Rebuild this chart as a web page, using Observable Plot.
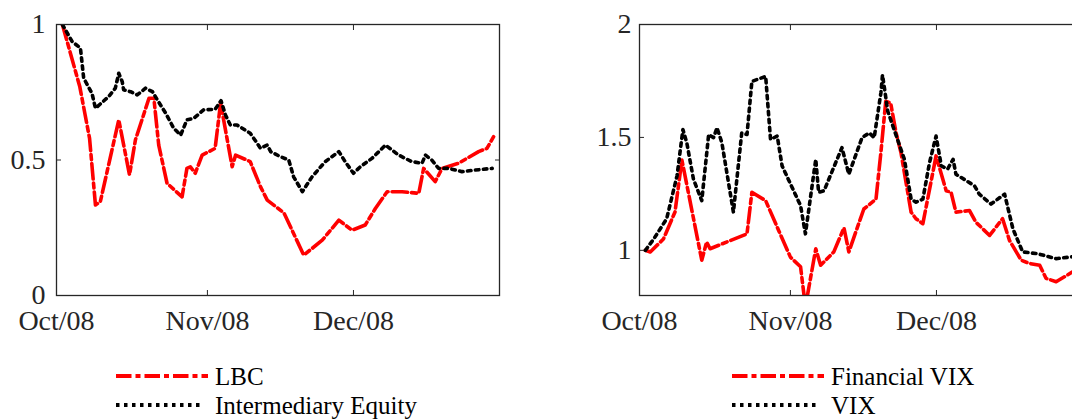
<!DOCTYPE html>
<html><head><meta charset="utf-8">
<script src="https://cdn.jsdelivr.net/npm/d3@7"></script>
<script src="https://cdn.jsdelivr.net/npm/@observablehq/plot@0.6"></script>
<style>
html,body{margin:0;padding:0;background:#fff;}
#wrap{position:relative;width:1072px;height:419px;overflow:hidden;background:#fff;}
#wrap > .panel{position:absolute;top:0;}
#legend{position:absolute;left:0;top:0;}
</style></head><body><div id="wrap"></div>
<script>
// ---------- data (dates as "YYYY-MM-DD HH", UTC) ----------
const xTickDates = ["2008-10-01 00", "2008-11-01 00", "2008-12-01 00"];
const xTickLabels = ["Oct/08", "Nov/08", "Dec/08"];
const xDomainDates = ["2008-10-01 00", "2008-12-31 00"];

const leftYTicks = [0, 0.5, 1];
const leftYTickLabels = ["0", "0.5", "1"];
const rightYTicks = [1, 1.5, 2];
const rightYTickLabels = ["1", "1.5", "2"];

const lbcDates = ["2008-10-02 05","2008-10-05 19","2008-10-07 19","2008-10-09 00","2008-10-10 00","2008-10-13 19","2008-10-16 00","2008-10-17 05","2008-10-20 00","2008-10-21 00","2008-10-22 00","2008-10-23 17","2008-10-26 19","2008-10-27 19","2008-10-28 12","2008-10-29 12","2008-10-30 22","2008-11-02 14","2008-11-03 17","2008-11-06 02","2008-11-06 19","2008-11-09 19","2008-11-11 22","2008-11-13 07","2008-11-16 17","2008-11-20 19","2008-11-24 14","2008-11-28 00","2008-11-30 17","2008-12-03 10","2008-12-05 12","2008-12-07 22","2008-12-11 00","2008-12-14 10","2008-12-15 10","2008-12-17 19","2008-12-19 05","2008-12-22 14","2008-12-26 17","2008-12-28 10","2008-12-29 19"];
const lbcValues = [1.0,0.77,0.58,0.334,0.346,0.648,0.445,0.574,0.728,0.728,0.555,0.414,0.364,0.469,0.475,0.451,0.518,0.543,0.71,0.475,0.518,0.494,0.401,0.352,0.305,0.149,0.204,0.278,0.241,0.26,0.321,0.383,0.383,0.377,0.469,0.42,0.469,0.488,0.531,0.543,0.586];

const equityDates = ["2008-10-02 05","2008-10-04 05","2008-10-05 22","2008-10-06 14","2008-10-08 07","2008-10-09 00","2008-10-11 17","2008-10-13 02","2008-10-13 19","2008-10-14 12","2008-10-14 19","2008-10-16 05","2008-10-17 14","2008-10-19 07","2008-10-20 17","2008-10-21 17","2008-10-23 10","2008-10-25 02","2008-10-26 12","2008-10-27 19","2008-10-29 05","2008-10-31 05","2008-11-02 14","2008-11-03 19","2008-11-04 17","2008-11-05 17","2008-11-07 02","2008-11-09 19","2008-11-11 22","2008-11-13 07","2008-11-14 00","2008-11-16 00","2008-11-17 17","2008-11-18 17","2008-11-20 12","2008-11-22 12","2008-11-25 05","2008-11-28 00","2008-11-29 07","2008-12-01 00","2008-12-02 10","2008-12-04 19","2008-12-07 14","2008-12-10 07","2008-12-13 00","2008-12-15 02","2008-12-15 19","2008-12-17 02","2008-12-18 12","2008-12-20 14","2008-12-23 07","2008-12-26 00","2008-12-29 12"];
const equityValues = [1.0,0.937,0.913,0.802,0.746,0.691,0.734,0.765,0.82,0.789,0.759,0.752,0.74,0.765,0.752,0.722,0.673,0.617,0.592,0.648,0.654,0.685,0.687,0.719,0.666,0.629,0.629,0.599,0.543,0.555,0.531,0.512,0.5,0.438,0.383,0.438,0.494,0.531,0.494,0.451,0.475,0.506,0.555,0.518,0.494,0.488,0.518,0.5,0.469,0.469,0.457,0.463,0.469];

const finVixDates = ["2008-10-02 05","2008-10-03 05","2008-10-05 22","2008-10-08 07","2008-10-09 17","2008-10-13 19","2008-10-14 19","2008-10-15 12","2008-10-23 02","2008-10-24 02","2008-10-26 22","2008-10-29 14","2008-11-01 00","2008-11-03 02","2008-11-04 02","2008-11-06 05","2008-11-07 05","2008-11-09 22","2008-11-12 00","2008-11-13 00","2008-11-16 02","2008-11-18 14","2008-11-19 14","2008-11-20 14","2008-11-21 14","2008-11-22 17","2008-11-23 17","2008-11-25 19","2008-11-26 19","2008-11-28 05","2008-11-30 22","2008-12-03 00","2008-12-04 00","2008-12-05 00","2008-12-07 19","2008-12-09 02","2008-12-11 22","2008-12-14 14","2008-12-16 00","2008-12-18 10","2008-12-20 02","2008-12-22 05","2008-12-23 12","2008-12-25 14","2008-12-29 00","2008-12-30 00"];
const finVixValues = [1.0,0.993,1.05,1.17,1.40,0.956,1.037,1.007,1.073,1.257,1.22,1.088,0.97,0.927,0.75,1.007,0.934,0.993,1.10,0.993,1.183,1.227,1.433,1.66,1.653,1.52,1.433,1.169,1.14,1.118,1.418,1.264,1.257,1.169,1.176,1.125,1.066,1.14,1.044,0.956,0.942,0.934,0.876,0.861,0.905,0.93];

const vixDates = ["2008-10-02 05","2008-10-03 22","2008-10-06 14","2008-10-08 17","2008-10-09 22","2008-10-10 17","2008-10-12 02","2008-10-13 19","2008-10-15 05","2008-10-16 05","2008-10-16 22","2008-10-17 22","2008-10-20 07","2008-10-22 00","2008-10-23 02","2008-10-24 02","2008-10-26 22","2008-10-27 22","2008-10-29 07","2008-10-30 07","2008-11-03 02","2008-11-04 02","2008-11-06 05","2008-11-06 19","2008-11-07 22","2008-11-11 14","2008-11-13 00","2008-11-15 17","2008-11-17 05","2008-11-18 05","2008-11-19 14","2008-11-19 22","2008-11-21 00","2008-11-23 00","2008-11-24 10","2008-11-25 19","2008-11-26 19","2008-11-28 05","2008-11-29 14","2008-11-30 22","2008-12-02 00","2008-12-03 07","2008-12-04 10","2008-12-05 00","2008-12-08 19","2008-12-09 19","2008-12-12 05","2008-12-15 00","2008-12-16 17","2008-12-18 17","2008-12-21 19","2008-12-25 14","2008-12-28 17","2008-12-30 00"];
const vixValues = [1.0,1.05,1.14,1.33,1.535,1.477,1.315,1.22,1.513,1.499,1.543,1.477,1.169,1.52,1.513,1.748,1.77,1.491,1.506,1.374,1.198,1.073,1.403,1.257,1.264,1.455,1.337,1.499,1.52,1.499,1.697,1.777,1.616,1.491,1.403,1.227,1.213,1.227,1.389,1.506,1.374,1.36,1.403,1.337,1.286,1.249,1.205,1.249,1.095,0.993,0.985,0.963,0.971,0.975];

const leftLabels = ["LBC", "Intermediary Equity"];
const rightLabels = ["Financial VIX", "VIX"];

// ---------- build ----------
const parse = d3.utcParse("%Y-%m-%d %H");
const rows = (dates, values) => dates.map((d, i) => ({date: parse(d), value: values[i]}));

const RED_DASH = "15.5,4,5,4";
const DOT_DASH = "3.5,4.5";
const INK = "#262626";

function panel({redRows, blackRows, yDomain, yTicks, yTickLabels, yPad}) {
  const xTicks = xTickDates.map(parse);
  const xFmt = d => xTickLabels[xTicks.findIndex(t => +t === +d)];
  const yFmt = d => yTickLabels[yTicks.indexOf(d)];
  return Plot.plot({
    width: 520, height: 340,
    marginLeft: 56, marginRight: 21, marginTop: 24, marginBottom: 45,
    style: {fontFamily: "'Liberation Serif', serif", fontSize: "28px", color: INK, background: "transparent", overflow: "visible"},
    x: {type: "utc", domain: xDomainDates.map(parse), label: null},
    y: {domain: yDomain, label: null},
    marks: [
      Plot.lineY(redRows, {x: "date", y: "value", stroke: "#ff0000", strokeWidth: 3.6, strokeDasharray: RED_DASH, clip: true}),
      Plot.lineY(blackRows, {x: "date", y: "value", stroke: "#000", strokeWidth: 3.6, strokeDasharray: DOT_DASH, clip: true}),
      Plot.axisX(xTicks, {anchor: "bottom", label: null, tickSize: -5, tickPadding: 20, tickFormat: xFmt, stroke: INK, fill: INK}),
      Plot.axisX(xTicks, {anchor: "top", label: null, tickSize: -5, tickFormat: () => "", stroke: INK}),
      Plot.axisY(yTicks, {anchor: "left", label: null, tickSize: -5, tickPadding: yPad, tickFormat: yFmt, stroke: INK, fill: INK}),
      Plot.axisY(yTicks, {anchor: "right", label: null, tickSize: -5, tickFormat: () => "", stroke: INK}),
      Plot.frame({stroke: INK, strokeWidth: 1.3})
    ]
  });
}

const wrap = document.getElementById("wrap");

const left = panel({
  redRows: rows(lbcDates, lbcValues),
  blackRows: rows(equityDates, equityValues),
  yDomain: [0, 1], yTicks: leftYTicks, yTickLabels: leftYTickLabels, yPad: 16
});
left.classList.add("panel");
left.style.left = "0px";
wrap.appendChild(left);

const right = panel({
  redRows: rows(finVixDates, finVixValues),
  blackRows: rows(vixDates, vixValues),
  yDomain: [0.8, 2], yTicks: rightYTicks, yTickLabels: rightYTickLabels, yPad: 13
});
right.classList.add("panel");
right.style.left = "583px";
wrap.appendChild(right);

// ---------- legends ----------
const svg = d3.select(wrap).append("svg").attr("id", "legend").attr("width", 1072).attr("height", 419);
function legend(x0, labels) {
  const styles = [
    {stroke: "#ff0000", dash: RED_DASH, len: 92},
    {stroke: "#000", dash: DOT_DASH, len: 86}
  ];
  const ys = [376, 405];
  labels.forEach((lab, i) => {
    svg.append("line").attr("x1", x0).attr("x2", x0 + styles[i].len).attr("y1", ys[i]).attr("y2", ys[i])
      .attr("stroke", styles[i].stroke).attr("stroke-width", 4).attr("stroke-dasharray", styles[i].dash);
    svg.append("text").attr("x", x0 + 99).attr("y", ys[i]).attr("dy", "0.35em")
      .attr("font-family", "'Liberation Serif', serif").attr("font-size", 25).attr("fill", "#000").text(lab);
  });
}
legend(116, leftLabels);
legend(732, rightLabels);
</script></body></html>
